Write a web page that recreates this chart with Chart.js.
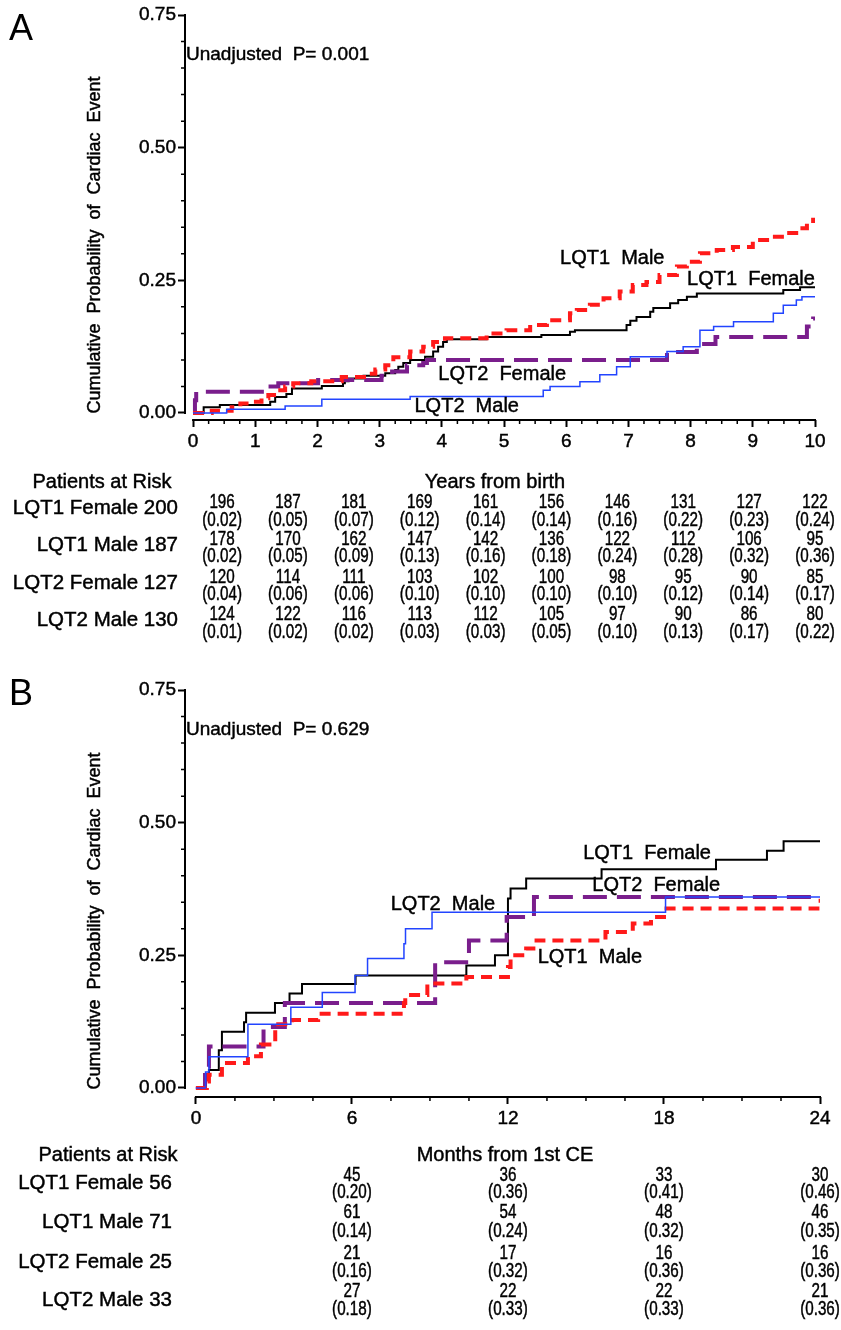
<!DOCTYPE html>
<html>
<head>
<meta charset="utf-8">
<script src="https://cdn.jsdelivr.net/npm/chart.js@4.4.1/dist/chart.umd.min.js"></script>
<style>
  html, body { margin: 0; padding: 0; background: #fff; }
  .panneau { position: absolute; left: 0; width: 841px; height: 665px; }
  #panneauA { top: 0; }
  #panneauB { top: 665px; }
</style>
</head>
<body>
<div class="panneau" id="panneauA"><canvas id="graphA" width="841" height="665"></canvas></div>
<div class="panneau" id="panneauB"><canvas id="graphB" width="841" height="665"></canvas></div>
<script>
// debut donnees
const groupes = ["LQT1 Female", "LQT1 Male", "LQT2 Female", "LQT2 Male"];
const ticksY = [0, 0.25, 0.5, 0.75];

// panneau A : annees depuis la naissance
const anneesTicks = [0, 1, 2, 3, 4, 5, 6, 7, 8, 9, 10];
const aF1T = [0, 0.17, 0.43, 1.24, 1.32, 1.5, 1.59, 2.07, 2.41, 2.44, 2.5, 2.74, 3.09, 3.25, 3.3, 3.38, 3.49, 3.73, 3.86, 3.94, 4.02, 4.08, 4.72, 5.6, 6.06, 6.14, 6.97, 7.03, 7.13, 7.35, 7.4, 7.67, 7.8, 7.94, 8.1, 9.49, 9.76, 10];
const aF1P = [0, 0.011, 0.015, 0.021, 0.03, 0.036, 0.046, 0.051, 0.056, 0.06, 0.065, 0.07, 0.075, 0.081, 0.087, 0.094, 0.1, 0.106, 0.116, 0.125, 0.134, 0.139, 0.143, 0.147, 0.153, 0.156, 0.166, 0.174, 0.181, 0.191, 0.198, 0.207, 0.213, 0.219, 0.225, 0.232, 0.237, 0.237];
const aM1T = [0, 0.3, 0.62, 0.76, 0.94, 1.1, 1.21, 1.35, 1.48, 1.61, 1.9, 2.39, 2.79, 2.93, 3.09, 3.22, 3.49, 3.7, 3.86, 4.05, 4.72, 5.04, 5.42, 5.69, 6.06, 6.17, 6.38, 6.6, 6.86, 7.07, 7.29, 7.5, 7.78, 7.94, 8.15, 8.42, 8.68, 9.0, 9.28, 9.55, 9.76, 9.87, 9.97, 10];
const aM1P = [0, 0.004, 0.011, 0.018, 0.021, 0.028, 0.034, 0.043, 0.05, 0.056, 0.06, 0.068, 0.074, 0.082, 0.09, 0.105, 0.116, 0.125, 0.134, 0.141, 0.15, 0.156, 0.166, 0.175, 0.188, 0.194, 0.204, 0.216, 0.229, 0.241, 0.247, 0.26, 0.276, 0.285, 0.301, 0.307, 0.313, 0.326, 0.332, 0.339, 0.348, 0.357, 0.364, 0.364];
const aF2T = [0, 0.03, 0.05, 1.21, 1.37, 2.01, 3.03, 3.2, 3.44, 3.7, 3.76, 7.62, 8.1, 8.4, 9.87, 9.97, 10];
const aF2P = [0, 0.024, 0.04, 0.05, 0.056, 0.062, 0.07, 0.078, 0.09, 0.094, 0.1, 0.115, 0.13, 0.143, 0.163, 0.178, 0.178];
const aM2T = [0, 0.54, 1.48, 2.07, 3.49, 5.63, 5.74, 6.22, 6.54, 6.81, 7.03, 7.62, 7.88, 8.15, 8.37, 8.69, 9.33, 9.49, 9.7, 9.79, 10];
const aM2P = [0, 0.007, 0.013, 0.026, 0.031, 0.043, 0.05, 0.059, 0.072, 0.087, 0.106, 0.116, 0.125, 0.156, 0.163, 0.172, 0.188, 0.203, 0.213, 0.219, 0.219];

// patients a risque panneau A (colonnes annees 1 a 10)
const aDebut = [200, 187, 127, 130];
const aRisqueF1 = [196, 187, 181, 169, 161, 156, 146, 131, 127, 122];
const aEstimF1 = [0.02, 0.05, 0.07, 0.12, 0.14, 0.14, 0.16, 0.22, 0.23, 0.24];
const aRisqueM1 = [178, 170, 162, 147, 142, 136, 122, 112, 106, 95];
const aEstimM1 = [0.02, 0.05, 0.09, 0.13, 0.16, 0.18, 0.24, 0.28, 0.32, 0.36];
const aRisqueF2 = [120, 114, 111, 103, 102, 100, 98, 95, 90, 85];
const aEstimF2 = [0.04, 0.06, 0.06, 0.10, 0.10, 0.10, 0.10, 0.12, 0.14, 0.17];
const aRisqueM2 = [124, 122, 116, 113, 112, 105, 97, 90, 86, 80];
const aEstimM2 = [0.01, 0.02, 0.02, 0.03, 0.03, 0.05, 0.10, 0.13, 0.17, 0.22];

// panneau B : mois depuis le 1er evenement
const moisTicks = [0, 6, 12, 18, 24];
const bF1T = [0, 0.37, 0.5, 0.88, 1.0, 1.85, 1.93, 3.04, 3.6, 4.08, 6.14, 10.4, 11.5, 12.0, 12.1, 12.7, 15.6, 20.0, 21.96, 22.6, 24];
const bF1P = [0, 0.015, 0.034, 0.071, 0.106, 0.124, 0.142, 0.16, 0.178, 0.196, 0.212, 0.231, 0.25, 0.357, 0.376, 0.395, 0.412, 0.43, 0.447, 0.465, 0.465];
const bM1T = [0, 0.42, 0.5, 1.0, 2.0, 2.5, 3.05, 3.7, 4.7, 8.0, 8.05, 8.9, 10.4, 12.0, 12.1, 12.7, 13.1, 15.75, 16.8, 17.5, 18.0, 23.9, 24];
const bM1P = [0, 0.012, 0.025, 0.047, 0.06, 0.082, 0.12, 0.128, 0.14, 0.16, 0.175, 0.197, 0.209, 0.228, 0.25, 0.263, 0.278, 0.294, 0.31, 0.322, 0.338, 0.353, 0.353];
const bF2T = [0, 0.35, 0.5, 2.6, 3.42, 9.2, 10.5, 11.95, 13.0, 24];
const bF2P = [0, 0.04, 0.078, 0.115, 0.16, 0.237, 0.278, 0.322, 0.36, 0.36];
const bM2T = [0, 0.37, 0.5, 2.0, 3.65, 4.86, 6.12, 6.6, 8.0, 8.06, 9.08, 18.06, 24];
const bM2P = [0, 0.03, 0.059, 0.12, 0.152, 0.18, 0.212, 0.244, 0.272, 0.3, 0.331, 0.36, 0.36];

// patients a risque panneau B (colonnes 6, 12, 18, 24 mois)
const bColonnes = [6, 12, 18, 24];
const bDebut = [56, 71, 25, 33];
const bRisqueF1 = [45, 36, 33, 30];
const bEstimF1 = [0.20, 0.36, 0.41, 0.46];
const bRisqueM1 = [61, 54, 48, 46];
const bEstimM1 = [0.14, 0.24, 0.32, 0.35];
const bRisqueF2 = [21, 17, 16, 16];
const bEstimF2 = [0.16, 0.32, 0.36, 0.36];
const bRisqueM2 = [27, 22, 22, 21];
const bEstimM2 = [0.18, 0.33, 0.33, 0.36];
// fin donnees

const police = "'Liberation Sans', Arial, Helvetica, sans-serif";
Chart.defaults.font.family = police;
Chart.defaults.color = "#000";

function points(t, p) {
  return t.map((v, i) => ({ x: v, y: p[i] }));
}

// style de chaque groupe : noir, rouge pointille, violet tirets, bleu fin
function courbe(i, t, p) {
  const styles = [
    { c: "#000000", l: 2, d: [], o: 3 },
    { c: "#ff1a1a", l: 4, d: [11, 7], o: 1 },
    { c: "#7a1e8c", l: 4, d: [24, 10], o: 2 },
    { c: "#2244ff", l: 1.5, d: [], o: 0 },
  ];
  const s = styles[i];
  return {
    label: groupes[i],
    data: points(t, p),
    borderColor: s.c,
    borderWidth: s.l,
    borderDash: s.d,
    borderCapStyle: "butt",
    borderJoinStyle: "miter",
    stepped: "before", // courbe en escalier (Kaplan-Meier)
    pointRadius: 0,
    fill: false,
    order: s.o,
  };
}

// texte un peu plus gras, comme la sortie d'origine
function texte(ctx, txt, x, y) {
  ctx.fillText(txt, x, y);
  ctx.strokeText(txt, x, y);
}

function texteEtroit(ctx, txt, x, y) {
  ctx.save();
  ctx.translate(x, y);
  ctx.scale(0.78, 1);
  texte(ctx, txt, 0, 0);
  ctx.restore();
}

function faireDecor(p) {
  return {
    id: "decor" + p.lettre,
    afterDraw(chart) {
      const ctx = chart.ctx;
      const sx = chart.scales.x;
      const sy = chart.scales.y;
      const gauche = chart.chartArea.left;
      const bas = chart.chartArea.bottom;
      ctx.save();
      ctx.strokeStyle = "#000";
      ctx.fillStyle = "#000";

      /* axes qui ne se touchent pas (style SAS) */
      ctx.lineWidth = 2;
      ctx.beginPath();
      ctx.moveTo(gauche, sy.getPixelForValue(0) + 1);
      ctx.lineTo(gauche, sy.getPixelForValue(0.75) - 1);
      ctx.moveTo(sx.getPixelForValue(0) - 1, bas);
      ctx.lineTo(sx.getPixelForValue(p.xMax) + 1, bas);
      ctx.stroke();

      /* petites graduations */
      ctx.lineWidth = 1.5;
      ctx.beginPath();
      for (let i = 1; i < 15; i++) {
        if (i % 5 === 0) continue;
        const y = sy.getPixelForValue(i * 0.05);
        ctx.moveTo(gauche - 4, y);
        ctx.lineTo(gauche, y);
      }
      const n = Math.round(p.xMax / p.pasMineur);
      for (let i = 1; i < n; i++) {
        if (i % 4 === 0) continue;
        const x = sx.getPixelForValue(i * p.pasMineur);
        ctx.moveTo(x, bas);
        ctx.lineTo(x, bas + 4);
      }
      ctx.stroke();

      ctx.lineWidth = 0.45;

      // lettre du panneau
      ctx.font = "36px " + police;
      ctx.textAlign = "left";
      ctx.textBaseline = "alphabetic";
      ctx.fillText(p.lettre, 9, 40);

      // titre axe y
      ctx.save();
      ctx.translate(95, p.yTitreY);
      ctx.rotate(-Math.PI / 2);
      ctx.font = "18px " + police;
      ctx.textAlign = "center";
      ctx.textBaseline = "middle";
      texte(ctx, "Cumulative  Probability  of  Cardiac  Event", 0, 0);
      ctx.restore();

      ctx.textBaseline = "middle";
      ctx.font = "19px " + police;
      ctx.textAlign = "left";
      texte(ctx, p.pValeur, gauche + 1, sy.getPixelForValue(0.675));

      // etiquettes des courbes
      ctx.font = "20px " + police;
      ctx.textAlign = "center";
      p.etiquettes.forEach((e) => {
        texte(ctx, e.texte, sx.getPixelForValue(e.x), sy.getPixelForValue(e.y));
      });

      // tableau des patients a risque
      ctx.font = "20px " + police;
      texte(ctx, "Patients at Risk", p.xRisque, p.yEntete);
      texte(ctx, p.titreX, p.xTitreX, p.yEntete);
      p.lignes.forEach((ligne, r) => {
        ctx.font = "20.5px " + police;
        ctx.textAlign = "right";
        texte(ctx, groupes[r] + " " + ligne.debut, p.xNoms, p.yNoms[r]);
        ctx.font = "19.5px " + police;
        ctx.textAlign = "center";
        ligne.risque.forEach((nb, k) => {
          const x = p.colonne(sx, k);
          texteEtroit(ctx, String(nb), x, p.yNombres[r]);
          texteEtroit(ctx, "(" + ligne.estim[k].toFixed(2) + ")", x, p.yEstim[r]);
        });
      });
      ctx.restore();
    },
  };
}

function creerPanneau(p) {
  const contexte = document.getElementById(p.canvas).getContext("2d");
  const grille = { drawOnChartArea: false, tickLength: 7, tickWidth: 2, tickColor: "#000" };
  const etiquettesTicks = { size: 19 };
  return new Chart(contexte, {
    type: "line",
    data: { datasets: p.courbes },
    options: {
      responsive: false,
      animation: false,
      events: [],
      layout: { padding: { left: 0, top: p.haut, right: p.droite, bottom: 0 } },
      plugins: { legend: { display: false }, tooltip: { enabled: false } },
      scales: {
        x: {
          type: "linear",
          min: p.xMin,
          max: p.xMax,
          afterBuildTicks: (s) => {
            s.ticks = p.ticksX.map((v) => ({ value: v }));
          },
          afterFit: (s) => {
            s.height = p.hauteurX;
          },
          border: { display: false },
          grid: grille,
          ticks: {
            autoSkip: false, maxRotation: 0, padding: 3, font: etiquettesTicks, color: "#000",
            textStrokeColor: "#000", textStrokeWidth: 0.45,
            callback: (v) => String(v),
          },
        },
        y: {
          type: "linear",
          min: p.yMin,
          max: 0.75,
          afterBuildTicks: (s) => {
            s.ticks = ticksY.map((v) => ({ value: v }));
          },
          afterFit: (s) => {
            s.width = 185;
          },
          border: { display: false },
          grid: grille,
          ticks: {
            padding: 2, font: etiquettesTicks, color: "#000",
            textStrokeColor: "#000", textStrokeWidth: 0.45,
            callback: (v) => v.toFixed(2),
          },
        },
      },
    },
    plugins: [faireDecor(p)],
  });
}

const graphA = creerPanneau({
  canvas: "graphA",
  lettre: "A",
  pValeur: "Unadjusted  P= 0.001",
  xMin: -0.13, xMax: 10, yMin: -0.0132,
  ticksX: anneesTicks, pasMineur: 0.25,
  haut: 15, droite: 26, hauteurX: 245,
  yTitreY: 245,
  courbes: [courbe(0, aF1T, aF1P), courbe(1, aM1T, aM1P), courbe(2, aF2T, aF2P), courbe(3, aM2T, aM2P)],
  etiquettes: [
    { texte: "LQT1  Male", x: 6.74, y: 0.292 },
    { texte: "LQT1  Female", x: 8.97, y: 0.251 },
    { texte: "LQT2  Female", x: 4.97, y: 0.072 },
    { texte: "LQT2  Male", x: 4.4, y: 0.013 },
  ],
  titreX: "Years from birth",
  xRisque: 102, xTitreX: 495, yEntete: 482, xNoms: 178,
  yNoms: [508, 545, 583, 620],
  yNombres: [503, 540, 578, 615],
  yEstim: [521, 557, 595, 633],
  // colonnes decalees comme dans la sortie SAS
  colonne: (sx, k) => {
    const x0 = sx.getPixelForValue(0) + 29;
    const x1 = sx.getPixelForValue(10);
    return x0 + (k * (x1 - x0)) / 9;
  },
  lignes: [
    { debut: aDebut[0], risque: aRisqueF1, estim: aEstimF1 },
    { debut: aDebut[1], risque: aRisqueM1, estim: aEstimM1 },
    { debut: aDebut[2], risque: aRisqueF2, estim: aEstimF2 },
    { debut: aDebut[3], risque: aRisqueM2, estim: aEstimM2 },
  ],
});

const graphB = creerPanneau({
  canvas: "graphB",
  lettre: "B",
  pValeur: "Unadjusted  P= 0.629",
  xMin: -0.42, xMax: 24, yMin: -0.017,
  ticksX: moisTicks, pasMineur: 1.5,
  haut: 25, droite: 21, hauteurX: 233,
  yTitreY: 256,
  courbes: [courbe(0, bF1T, bF1P), courbe(1, bM1T, bM1P), courbe(2, bF2T, bF2P), courbe(3, bM2T, bM2P)],
  etiquettes: [
    { texte: "LQT1  Female", x: 17.35, y: 0.442 },
    { texte: "LQT2  Female", x: 17.7, y: 0.382 },
    { texte: "LQT2  Male", x: 9.5, y: 0.346 },
    { texte: "LQT1  Male", x: 15.15, y: 0.246 },
  ],
  titreX: "Months from 1st CE",
  xRisque: 108, xTitreX: 505, yEntete: 490, xNoms: 172,
  yNoms: [518, 557, 597, 635],
  yNombres: [511, 548, 589, 627],
  yEstim: [528, 567, 607, 645],
  colonne: (sx, k) => sx.getPixelForValue(bColonnes[k]),
  lignes: [
    { debut: bDebut[0], risque: bRisqueF1, estim: bEstimF1 },
    { debut: bDebut[1], risque: bRisqueM1, estim: bEstimM1 },
    { debut: bDebut[2], risque: bRisqueF2, estim: bEstimF2 },
    { debut: bDebut[3], risque: bRisqueM2, estim: bEstimM2 },
  ],
});
console.log(graphA, graphB);
</script>
</body>
</html>
